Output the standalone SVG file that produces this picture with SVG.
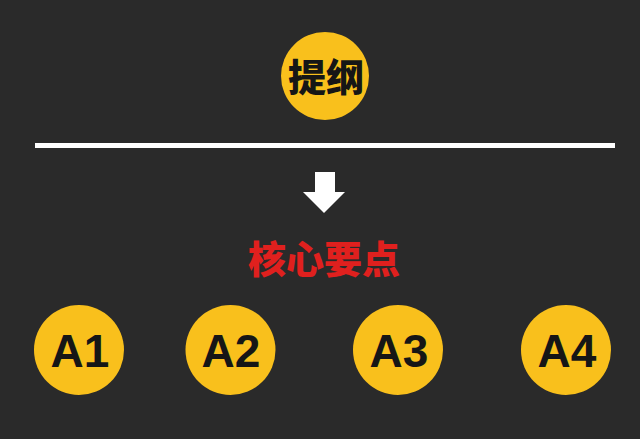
<svg xmlns="http://www.w3.org/2000/svg" width="640" height="439" viewBox="0 0 640 439">
<style>
.c{fill:#f9c01c}
.cjk{font-family:"Noto Sans CJK SC","Noto Sans CJK JP",sans-serif;font-weight:900;text-anchor:middle}
.a{font-family:"Liberation Sans","DejaVu Sans",sans-serif;font-weight:bold;font-size:46px;fill:#161616;text-anchor:middle}
</style>
<rect width="640" height="439" fill="#2a2a2a"/>
<g id="outline">
<circle class="c" cx="325" cy="76" r="44"/>
<text class="cjk" x="326" y="91" font-size="38" fill="#161616">提纲</text>
</g>
<g id="connectors">
<rect x="35" y="143" width="580" height="5" fill="#ffffff"/>
<polygon points="315,172 335,172 335,192 345,192 324,213 303,192 315,192" fill="#ffffff"/>
</g>
<g id="core">
<text class="cjk" x="324" y="273" font-size="38" fill="#e0201e">核心要点</text>
</g>
<g id="A1"><circle class="c" cx="79" cy="350" r="45"/><text class="a" x="80" y="367">A1</text></g>
<g id="A2"><circle class="c" cx="230.5" cy="350" r="45"/><text class="a" x="231" y="367">A2</text></g>
<g id="A3"><circle class="c" cx="398" cy="350" r="45"/><text class="a" x="399" y="367">A3</text></g>
<g id="A4"><circle class="c" cx="566" cy="350" r="45"/><text class="a" x="567" y="367">A4</text></g>
</svg>
